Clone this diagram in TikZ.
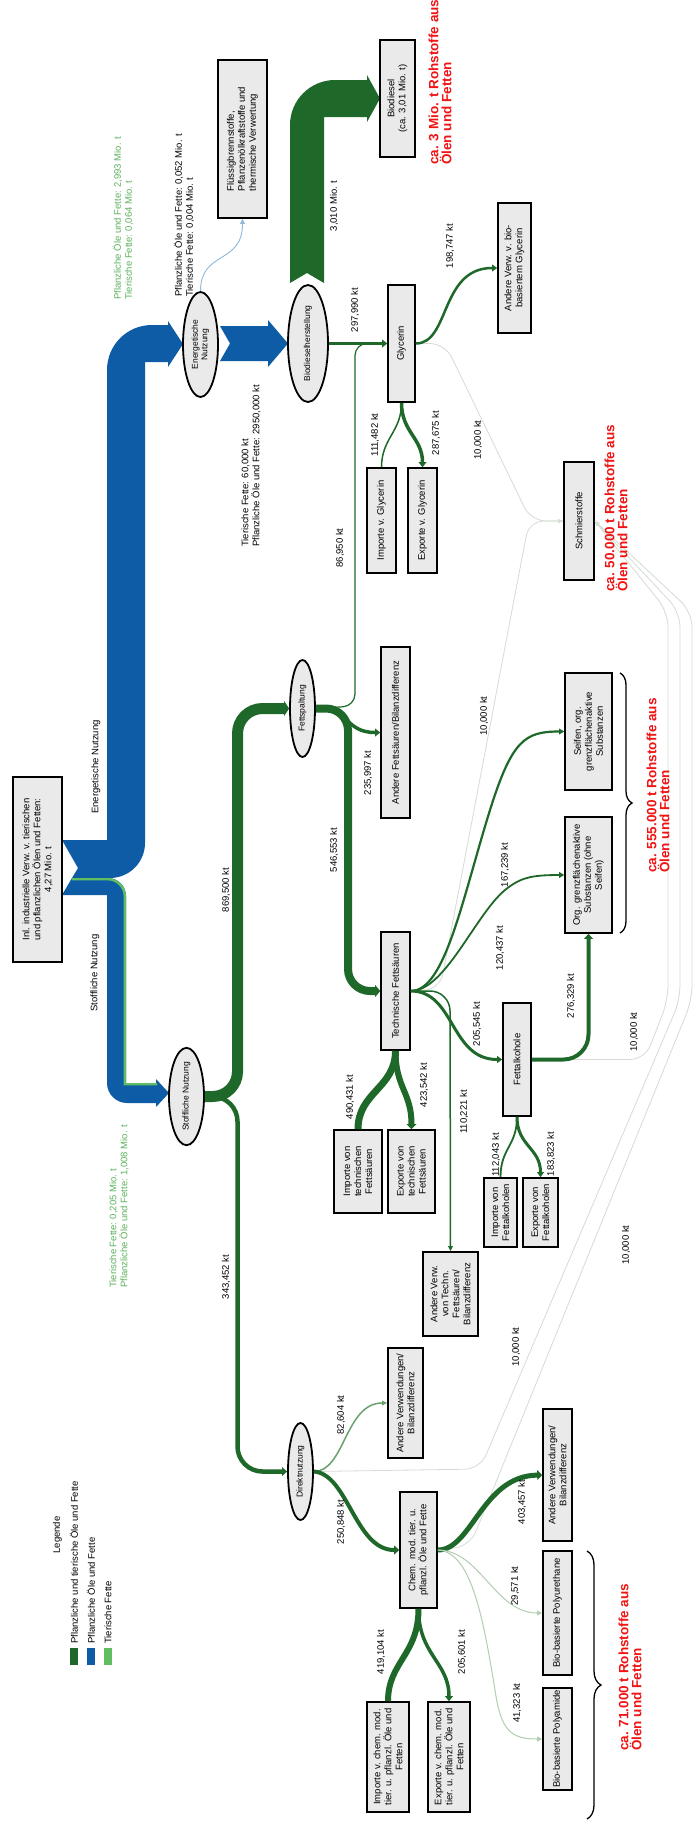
\documentclass[tikz,border=0pt]{standalone}
\usepackage{fontspec}
\setmainfont{Liberation Sans}
\usetikzlibrary{shapes.geometric,arrows.meta,decorations.pathreplacing,calc}
\definecolor{dg}{RGB}{30,104,42}
\definecolor{bl}{RGB}{14,92,166}
\definecolor{lg}{RGB}{96,190,96}
\definecolor{lgtxt}{RGB}{92,178,92}
\definecolor{mg}{RGB}{104,160,110}
\definecolor{pg}{RGB}{178,205,178}
\definecolor{faint}{RGB}{212,220,212}
\definecolor{lb}{RGB}{140,185,220}
\definecolor{boxfill}{RGB}{234,234,234}
\definecolor{redtext}{RGB}{240,20,20}
\begin{document}
\begin{tikzpicture}[x=1pt,y=-1pt,
 box/.style={draw=black,line width=1.6pt,fill=boxfill,rotate=90,align=center,font=\fontsize{9.5}{11}\selectfont,inner sep=1pt},
 ell/.style={draw=black,line width=1.8pt,fill=boxfill,ellipse,rotate=90,align=center,font=\fontsize{8.5}{9.5}\selectfont,inner sep=0pt},
 lbl/.style={rotate=90,font=\fontsize{9.5}{11}\selectfont,inner sep=0pt},
 redtxt/.style={rotate=90,anchor=west,align=left,text=redtext,font=\bfseries\fontsize{13.5}{13}\selectfont,inner sep=0pt},
 arr/.style={-{Triangle[length=5pt,width=#1,line width=0pt]}},
 faintline/.style={draw=faint,line width=0.8pt,rounded corners=15pt},
 key/.style={minimum width=8pt,minimum height=17pt,inner sep=0pt},
]
\useasboundingbox (0,0) rectangle (699,1823);
\fill[white] (0,0) rectangle (699,1823);

% ---------- Sankey bands ----------
\fill[bl] (62,840) -- (78,868) -- (72,878) -- (110,878) .. controls (129.3,878) and (145,862.3) .. (145,843) -- (145,362) -- (168,362) -- (168,367) -- (183,344) -- (168,321) -- (168,325) -- (152,325) .. controls (126.8,325) and (107,345.2) .. (107,370) -- (107,840) -- cycle;
\fill[bl] (72,878) -- (62,895) -- (107,895) -- (107,1083) .. controls (107,1094) and (116,1103) .. (127,1103) -- (156,1103) -- (156,1107) -- (169,1093) -- (156,1079) -- (156,1083) -- (126,1083) -- (126,896) .. controls (126,886) and (118,878) .. (108,878) -- cycle;
\draw[lg,line width=2.4pt] (72,879.2) -- (108,879.2) .. controls (117,879.2) and (124.8,887) .. (124.8,896) -- (124.8,1084.2) -- (157,1084.2);
\fill[bl] (220,326) -- (230,343.5) -- (220,361) -- (268,361) -- (268,367) -- (288,343.5) -- (268,320) -- (268,326) -- cycle;
\fill[dg] (290,283) -- (307,273) -- (324,283) -- (324,117) -- (367,117) -- (367,122) -- (380,98.5) -- (367,75) -- (367,80) -- (335,80) .. controls (310.2,80) and (290,100.2) .. (290,125) -- cycle;

% ---------- Boxes ----------
\node[box,minimum width=185pt,minimum height=49pt] (src) at (37.5,869.5) {Inl. industrielle Verw. v. tierischen\\und pflanzlichen Ölen und Fetten:\\4,27 Mio. t};
\node[box,align=left,minimum width=158pt,minimum height=49pt] (fluess) at (242.5,139) {Flüssigbrennstoffe,\\Pflanzenölkraftstoffe und\\thermische Verwertung};
\node[box,minimum width=117pt,minimum height=35pt] (biodiesel) at (397.5,98.5) {Biodiesel\\(ca. 3,01 Mio. t)};
\node[box,minimum width=130pt,minimum height=33pt] (andglyc) at (514.5,268) {Andere Verw. v. bio-\\basiertem Glycerin};
\node[box,minimum width=117pt,minimum height=27pt] (glyc) at (401.5,343.5) {Glycerin};
\node[box,minimum width=105pt,minimum height=29pt] (impglyc) at (381.5,520.5) {Importe v. Glycerin};
\node[box,minimum width=105pt,minimum height=29pt] (expglyc) at (422.5,520.5) {Exporte v. Glycerin};
\node[box,minimum width=118pt,minimum height=30pt] (schmier) at (579,521) {Schmierstoffe};
\node[box,minimum width=171pt,minimum height=29pt] (andfett) at (395.5,732.5) {Andere Fettsäuren/Bilanzdifferenz};
\node[box,minimum width=117pt,minimum height=47pt] (seifen) at (588.5,731.5) {Seifen, org.\\grenzflächenaktive\\Substanzen};
\node[box,minimum width=116pt,minimum height=47pt] (orggr) at (588.5,875) {Org. grenzflächenaktive\\Substanzen (ohne\\Seifen)};
\node[box,minimum width=118pt,minimum height=29pt] (techfs) at (395.5,991) {Technische Fettsäuren};
\node[box,minimum width=83pt,minimum height=48pt] (impfs) at (358,1171.5) {Importe von\\technischen\\Fettsäuren};
\node[box,minimum width=83pt,minimum height=47pt] (expfs) at (411.5,1171.5) {Exporte von\\technischen\\Fettsäuren};
\node[box,minimum width=113pt,minimum height=28pt] (fettalk) at (517,1059.5) {Fettalkohole};
\node[box,minimum width=69pt,minimum height=33pt] (impfa) at (500.5,1212.5) {Importe von\\Fettalkoholen};
\node[box,minimum width=69pt,minimum height=35pt] (expfa) at (540.5,1212.5) {Exporte von\\Fettalkoholen};
\node[box,minimum width=84pt,minimum height=55pt] (andfs) at (450.5,1294) {Andere Verw.\\von Techn.\\Fettsäuren/\\Bilanzdifferenz};
\node[box,minimum width=110pt,minimum height=35pt] (and1) at (405.5,1403) {Andere Verwendungen/\\Bilanzdifferenz};
\node[box,minimum width=116pt,minimum height=37pt] (chem) at (418.5,1550) {Chem. mod. tier. u.\\pflanzl. Öle und Fette};
\node[box,minimum width=132pt,minimum height=29pt] (and2) at (557.5,1475) {Andere Verwendungen/\\Bilanzdifferenz};
\node[box,minimum width=124pt,minimum height=29pt] (pu) at (557.5,1613) {Bio-basierte Polyurethane};
\node[box,minimum width=102pt,minimum height=29pt] (pa) at (557.5,1739) {Bio-basierte Polyamide};
\node[box,minimum width=110pt,minimum height=42pt] (impchem) at (388,1757) {Importe v. chem. mod.\\tier. u. pflanzl. Öle und\\Fetten};
\node[box,minimum width=110pt,minimum height=42pt] (expchem) at (449,1757) {Exporte v. chem. mod.\\tier. u. pflanzl. Öle und\\Fetten};

% ---------- Ellipses ----------
\node[ell,minimum width=105pt,minimum height=35pt] (energ) at (200.5,344.5) {Energetische\\Nutzung};
\node[ell,minimum width=117pt,minimum height=40pt] (bdh) at (308,343.5) {Biodieselherstellung};
\node[ell,minimum width=97pt,minimum height=25pt] (fsp) at (302.5,708.5) {Fettspaltung};
\node[ell,minimum width=97pt,minimum height=35pt] (stoff) at (186.5,1096.5) {Stoffliche Nutzung};
\node[ell,minimum width=97pt,minimum height=25pt] (direkt) at (300.5,1471.5) {Direktnutzung};

% ---------- Faint 10,000 kt lines ----------
\draw[faintline,arr=4pt] (glyc.south) -- (445,343.5) -- (531,521) -- (schmier.north);
\draw[faintline,arr=4pt] (techfs.south) -- (440,989) -- (529,521) -- (schmier.north);
\draw[faintline,arr=4pt] (fettalk.south) -- (645,1059.5) -- (668,1000) -- (668,612) -- (schmier.south);
\draw[faintline,arr=4pt] (direkt.south) -- (480,1469) -- (680,1000) -- (680,612) -- (schmier.south);
\draw[faintline,arr=4pt] (chem.south) -- (470,1546) -- (692,1000) -- (692,612) -- (schmier.south);

% ---------- Flows ----------
\draw[dg,line width=11pt,rounded corners=25pt,arr=15pt] (stoff.south) -- (237.5,1096.5) -- (237.5,708.5) -- (fsp.north);
\draw[dg,line width=4.5pt,rounded corners=25pt,arr=9pt] (stoff.south) -- (237.5,1096.5) -- (237.5,1471.5) -- (direkt.north);
\draw[dg,line width=8pt,rounded corners=22pt,arr=12pt] (fsp.south) -- (348,708.5) -- (348,991) -- (techfs.north);
\draw[dg,line width=3.5pt,arr=8pt] (fsp.south) .. controls (350,708.5) and (345,732.5) .. (andfett.north);
\draw[dg,line width=1.2pt,rounded corners=12pt,arr=5pt] (fsp.south) -- (355,706) -- (355,343.5) -- (glyc.north);
\draw[dg,line width=3.5pt,arr=8pt] (bdh.south) -- (glyc.north);
\draw[dg,line width=2.5pt,arr=7pt] (glyc.south) .. controls (450,343.5) and (440,268) .. (andglyc.north);
\draw[dg,line width=3.5pt,arr=8pt] (glyc.west) .. controls (401.5,432) and (422.5,438) .. (expglyc.east);
\draw[dg,line width=1.5pt] (impglyc.east) .. controls (381.5,438) and (401.5,432) .. (glyc.west);
\draw[dg,line width=2.2pt,arr=6pt] (techfs.south) .. controls (445,991) and (462,900) .. (490,810) .. controls (512,740) and (525,731.5) .. (seifen.north);
\draw[dg,line width=1.8pt,arr=6pt] (techfs.south) .. controls (445,991) and (475,915) .. (505,890) .. controls (520,878) and (530,875) .. (orggr.north);
\draw[dg,line width=3pt,arr=7pt] (techfs.south) .. controls (455,991) and (450,1059.5) .. (fettalk.north);
\draw[dg,line width=1.5pt,rounded corners=20pt,arr=5pt] (techfs.south) -- (450,991) -- (andfs.east);
\draw[dg,line width=7pt] (impfs.east) .. controls (358,1092) and (395.5,1088) .. (techfs.west);
\draw[dg,line width=6pt,arr=10pt] (techfs.west) .. controls (395.5,1088) and (411.5,1092) .. (expfs.east);
\draw[dg,line width=4pt,rounded corners=25pt,arr=9pt] (fettalk.south) -- (588.5,1059.5) -- (orggr.west);
\draw[dg,line width=1.8pt] (impfa.east) .. controls (500.5,1148) and (517,1146) .. (fettalk.west);
\draw[dg,line width=3pt,arr=7pt] (fettalk.west) .. controls (517,1146) and (540.5,1148) .. (expfa.east);
\draw[mg,line width=1.5pt,arr=5pt] (direkt.south) .. controls (345,1471.5) and (345,1403) .. (and1.north);
\draw[dg,line width=4pt,arr=9pt] (direkt.south) .. controls (348,1474) and (355,1550) .. (chem.north);
\draw[dg,line width=6pt] (impchem.east) .. controls (388,1662) and (418.5,1655) .. (chem.west);
\draw[dg,line width=3.5pt,arr=8pt] (chem.west) .. controls (418.5,1655) and (449,1662) .. (expchem.east);
\draw[dg,line width=5pt,arr=10pt] (chem.south) .. controls (472,1550) and (482,1476) .. (and2.north);
\draw[pg,line width=1pt,arr=5pt] (chem.south) .. controls (480,1550) and (495,1613) .. (pu.north);
\draw[pg,line width=1pt,arr=5pt] (chem.south) .. controls (470,1552) and (482,1610) .. (495,1690) .. controls (501,1730) and (510,1739) .. (pa.north);
\draw[lb,line width=0.9pt,arr=5pt] (energ.east) .. controls (200.5,250) and (242.5,265) .. (fluess.west);

% ---------- Braces ----------
\draw[decorate,decoration={brace,amplitude=12pt},line width=1.3pt] (620,673) -- (620,933);
\draw[decorate,decoration={brace,amplitude=14pt},line width=1.3pt] (587,1551) -- (587,1819);

% ---------- Labels ----------
\node[lbl] (lEn) at (96,767) {Energetische Nutzung};
\node[lbl] (lSt) at (95,973) {Stoffliche Nutzung};
\node[lbl,anchor=west,align=left,text=lgtxt] (lTop) at (123,300) {Pflanzliche Öle und Fette: 2,993 Mio. t\\Tierische Fette: 0,064 Mio. t};
\node[lbl,anchor=west,align=left] (lFl) at (184,297) {Pflanzliche Öle und Fette: 0,052 Mio. t\\Tierische Fette: 0,004 Mio. t};
\node[lbl,anchor=west,align=left] (lBd) at (251,547) {Tierische Fette: 60,000 kt\\Pflanzliche Öle und Fette: 2950,000 kt};
\node[lbl,anchor=west,align=left,text=lgtxt] (lSn) at (119,1288) {Tierische Fette: 0,205 Mio. t\\Pflanzliche Öle und Fette: 1,008 Mio. t};
\node[lbl] at (334,206) {3,010 Mio. t};
\node[lbl] at (355,310) {297,990 kt};
\node[lbl] at (450,246) {198,747 kt};
\node[lbl] at (375,435) {111,482 kt};
\node[lbl] at (436,433) {287,675 kt};
\node[lbl] at (478,440) {10,000 kt};
\node[lbl] at (340,548) {86,950 kt};
\node[lbl] at (226,890) {869,500 kt};
\node[lbl] at (334,850) {546,553 kt};
\node[lbl] at (368,773) {235,997 kt};
\node[lbl] at (484,716) {10,000 kt};
\node[lbl] at (505,865) {167,239 kt};
\node[lbl] at (500,948) {120,437 kt};
\node[lbl] at (477,1024) {205,545 kt};
\node[lbl] at (571,996) {276,329 kt};
\node[lbl] at (634,1032) {10,000 kt};
\node[lbl] at (350,1097) {490,431 kt};
\node[lbl] at (424,1085) {423,542 kt};
\node[lbl] at (464,1112) {110,221 kt};
\node[lbl] at (496,1155) {112,043 kt};
\node[lbl] at (551,1154) {183,823 kt};
\node[lbl] at (226,1277) {343,452 kt};
\node[lbl] at (626,1245) {10,000 kt};
\node[lbl] at (516,1347) {10,000 kt};
\node[lbl] at (341,1415) {82,604 kt};
\node[lbl] at (341,1522) {250,848 kt};
\node[lbl] at (522,1502) {403,457 kt};
\node[lbl] at (381,1652) {419,104 kt};
\node[lbl] at (462,1652) {205,601 kt};
\node[lbl] at (515,1586) {29,571 kt};
\node[lbl] at (517,1703) {41,323 kt};

\node[redtxt] (r1) at (440,165) {ca. 3 Mio. t Rohstoffe aus\\Ölen und Fetten};
\node[redtxt] (r2) at (616,592) {ca. 50.000 t Rohstoffe aus\\Ölen und Fetten};
\node[redtxt] (r3) at (658,873) {ca. 555.000 t Rohstoffe aus\\Ölen und Fetten};
\node[redtxt] (r4) at (630,1751) {ca. 71.000 t Rohstoffe aus\\Ölen und Fetten};

% ---------- Legend ----------
\node[lbl] (leg) at (57.5,1535) {Legende};
\node[key,fill=dg] (k1) at (74,1656.5) {};
\node[key,fill=bl] (k2) at (91,1656.5) {};
\node[key,fill=lg] (k3) at (108,1656.5) {};
\node[lbl,anchor=west] (t1) at (74,1644) {Pflanzliche und tierische Öle und Fette};
\node[lbl,anchor=west] (t2) at (91,1644) {Pflanzliche Öle und Fette};
\node[lbl,anchor=west] (t3) at (108,1644) {Tierische Fette};
\end{tikzpicture}
\end{document}
